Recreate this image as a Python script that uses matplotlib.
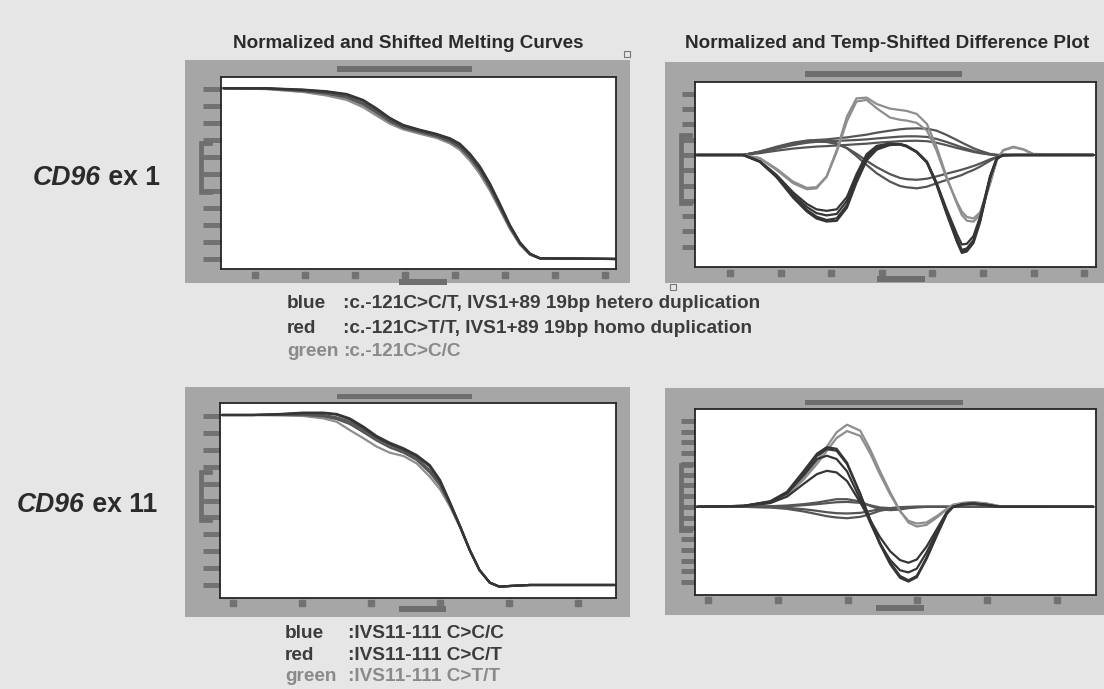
import matplotlib
matplotlib.use("Agg")
import matplotlib.pyplot as plt
from matplotlib import font_manager, transforms
from matplotlib.patches import Rectangle
from matplotlib.lines import Line2D

# ---------------- data ----------------
# x in temperature-tick units, y in % fluorescence / difference units
TL_T = [-0.63, 0.23, 0.96, 1.43, 1.83, 2.16, 2.43, 2.69, 2.96, 3.29, 3.63,
        3.89, 4.09, 4.29, 4.49, 4.69, 4.89, 5.09, 5.29, 5.49, 5.69, 7.19]
tl_blue1 = [100.4, 100.4, 99.6, 98.6, 97.0, 93.5, 88.5, 83.0, 78.8, 76.0, 73.5,
            71.0, 67.8, 62.0, 54.5, 44.5, 32.5, 20.0, 9.8, 3.2, 0.4, 0.0]
tl_blue2 = [100.4, 100.3, 99.4, 98.3, 96.6, 93.0, 88.0, 82.6, 78.5, 75.7, 73.2,
            70.6, 67.3, 61.5, 53.8, 43.8, 31.8, 19.6, 9.6, 3.1, 0.4, 0.0]
tl_red1 = [100.4, 100.2, 99.0, 97.5, 95.5, 91.6, 86.7, 81.4, 77.5, 74.9, 72.4,
           69.6, 66.1, 60.2, 52.4, 42.5, 30.8, 19.0, 9.2, 2.9, 0.4, 0.0]
tl_red2 = [100.4, 100.2, 98.8, 97.2, 95.0, 91.0, 86.0, 80.9, 77.1, 74.6, 72.0,
           69.1, 65.6, 59.6, 51.8, 41.9, 30.3, 18.7, 9.0, 2.8, 0.4, 0.0]
tl_green1 = [100.4, 100.0, 98.4, 96.5, 94.0, 89.8, 84.8, 80.0, 76.5, 74.0, 71.5,
             68.5, 64.8, 58.5, 50.5, 40.8, 29.5, 18.0, 8.6, 2.6, 0.3, 0.0]
tl_green2 = [100.4, 99.9, 98.2, 96.1, 93.5, 89.2, 84.2, 79.6, 76.2, 73.6, 71.1,
             68.0, 64.2, 57.9, 50.0, 40.3, 29.1, 17.8, 8.5, 2.5, 0.3, 0.0]

TR_T = [-0.66, 0.26, 0.59, 0.92, 1.25, 1.52, 1.71, 1.91, 2.11, 2.31, 2.50, 2.70,
        2.90, 3.16, 3.36, 3.49, 3.69, 3.89, 4.08, 4.28, 4.48, 4.58, 4.68, 4.81,
        4.94, 5.14, 5.27, 5.40, 5.60, 5.80, 5.99, 7.18]
tr_green1 = [0, 0, -0.22, -0.98, -1.85, -2.24, -2.18, -1.42, 0.33, 2.51, 3.70, 3.75,
             3.33, 3.03, 2.94, 2.88, 2.68, 2.03, 0.54, -1.42, -3.16, -3.92, -4.29, -4.36,
             -3.92, -1.85, -0.33, 0.33, 0.54, 0.37, 0.07, 0]
tr_green2 = [0, 0, -0.20, -0.90, -1.75, -2.15, -2.10, -1.40, 0.20, 2.20, 3.50, 3.60,
             3.05, 2.45, 2.30, 2.25, 2.10, 1.60, 0.30, -1.55, -3.05, -3.70, -4.05, -4.15,
             -3.75, -1.80, -0.35, 0.30, 0.50, 0.35, 0.05, 0]
tr_red1 = [0, 0, -0.44, -1.42, -2.72, -3.59, -4.03, -4.25, -4.14, -3.27, -1.63, -0.22,
           0.44, 0.70, 0.70, 0.59, 0.22, -0.44, -1.85, -3.70, -5.45, -6.21, -6.10, -5.56,
           -4.25, -1.42, -0.22, 0, 0, 0, 0, 0]
tr_red2 = [0, 0, -0.40, -1.30, -2.45, -3.20, -3.55, -3.65, -3.55, -2.75, -1.25, 0.05,
           0.60, 0.75, 0.72, 0.60, 0.20, -0.45, -1.80, -3.55, -5.15, -5.85, -5.80, -5.30,
           -4.05, -1.35, -0.20, 0, 0, 0, 0, 0]
tr_red3 = [0, 0, -0.45, -1.45, -2.80, -3.70, -4.15, -4.35, -4.30, -3.45, -1.80, -0.35,
           0.35, 0.65, 0.68, 0.55, 0.18, -0.50, -1.95, -3.85, -5.65, -6.40, -6.30, -5.75,
           -4.40, -1.50, -0.25, 0, 0, 0, 0, 0]
tr_red4 = [0, 0, -0.42, -1.36, -2.60, -3.40, -3.80, -3.95, -3.85, -3.00, -1.45, -0.10,
           0.50, 0.72, 0.70, 0.58, 0.20, -0.47, -1.88, -3.75, -5.55, -6.30, -6.20, -5.65,
           -4.30, -1.45, -0.22, 0, 0, 0, 0, 0]
tr_blue1 = [0, 0, 0.22, 0.50, 0.76, 0.92, 0.98, 1.02, 1.09, 1.15, 1.24, 1.33,
            1.46, 1.59, 1.68, 1.72, 1.74, 1.72, 1.59, 1.31, 0.98, 0.81, 0.65, 0.44,
            0.28, 0.07, 0, 0, 0, 0, 0, 0]
tr_blue2 = [0, 0, 0.18, 0.42, 0.65, 0.80, 0.86, 0.90, 0.92, 0.95, 0.98, 1.02,
            1.08, 1.15, 1.20, 1.22, 1.22, 1.18, 1.05, 0.85, 0.62, 0.50, 0.40, 0.26,
            0.15, 0.03, 0, 0, 0, 0, 0, 0]
tr_blue3 = [0, 0, 0.12, 0.28, 0.42, 0.50, 0.55, 0.58, 0.62, 0.66, 0.70, 0.74,
            0.80, 0.86, 0.90, 0.92, 0.93, 0.90, 0.80, 0.64, 0.46, 0.38, 0.30, 0.20,
            0.12, 0.03, 0, 0, 0, 0, 0, 0]
tr_blue4 = [0, 0, 0.22, 0.54, 0.81, 0.94, 0.98, 0.92, 0.76, 0.44, -0.07, -0.65,
            -1.20, -1.74, -2.03, -2.11, -2.18, -2.07, -1.85, -1.63, -1.42, -1.31, -1.15, -0.98,
            -0.76, -0.37, -0.15, -0.04, 0, 0, 0, 0]
tr_blue5 = [0, 0, 0.20, 0.48, 0.72, 0.85, 0.88, 0.85, 0.72, 0.46, 0.08, -0.38,
            -0.80, -1.25, -1.50, -1.58, -1.62, -1.55, -1.40, -1.22, -1.05, -0.96, -0.86, -0.72,
            -0.56, -0.28, -0.12, -0.03, 0, 0, 0, 0]

BL_T = [-0.16, 0.29, 0.68, 1.02, 1.31, 1.50, 1.69, 1.89, 2.08, 2.27, 2.47, 2.66,
        2.85, 3.00, 3.14, 3.29, 3.43, 3.57, 3.72, 3.86, 4.01, 4.30, 5.53]
bl_blue1 = [100.6, 100.6, 101.2, 102.0, 102.0, 101.2, 98.6, 93.7, 88.2, 84.2, 80.9, 76.9,
            71.0, 62.1, 49.3, 34.9, 20.7, 8.9, 1.4, -1.0, -0.6, 0.0, 0.0]
bl_blue2 = [100.6, 100.6, 101.0, 101.7, 101.7, 100.8, 98.0, 93.0, 87.6, 83.6, 80.4, 76.3,
            70.2, 61.4, 48.9, 34.7, 20.7, 8.9, 1.4, -1.0, -0.6, 0.0, 0.0]
bl_red1 = [100.6, 100.6, 100.8, 101.0, 100.6, 99.2, 96.6, 91.7, 86.8, 82.8, 79.3, 75.0,
           68.0, 60.2, 48.3, 34.5, 20.7, 8.9, 1.4, -1.0, -0.6, 0.0, 0.0]
bl_red2 = [100.6, 100.6, 100.6, 100.6, 99.8, 98.2, 95.3, 90.4, 85.5, 81.4, 78.3, 74.0,
           66.6, 58.9, 47.9, 34.3, 20.6, 8.9, 1.4, -1.0, -0.6, 0.0, 0.0]
bl_green1 = [100.6, 100.6, 100.4, 100.0, 98.6, 96.6, 91.7, 86.8, 81.9, 78.3, 76.3, 72.0,
             64.1, 56.6, 46.7, 34.1, 20.5, 8.9, 1.4, -1.0, -0.6, 0.0, 0.0]

BR_T = [-0.16, 0.51, 0.89, 1.13, 1.37, 1.56, 1.70, 1.84, 1.99, 2.18, 2.32, 2.46,
        2.61, 2.75, 2.87, 2.99, 3.13, 3.28, 3.42, 3.51, 3.66, 3.80, 3.99, 4.18, 5.52]
br_green1 = [0, 0.09, 0.40, 1.18, 2.73, 4.29, 5.59, 6.93, 7.64, 7.08, 5.37, 3.35,
             1.34, -0.37, -1.46, -1.83, -1.68, -0.99, -0.22, 0.19, 0.37, 0.43, 0.31, 0.06, 0]
br_green2 = [0, 0.09, 0.38, 1.10, 2.55, 4.00, 5.20, 6.40, 7.05, 6.60, 5.00, 3.05,
             1.15, -0.40, -1.30, -1.55, -1.45, -0.85, -0.18, 0.19, 0.37, 0.43, 0.31, 0.06, 0]
br_red1 = [0, 0.09, 0.50, 1.34, 3.20, 4.75, 5.37, 5.22, 3.98, 1.18, -1.15, -3.32,
           -5.19, -6.43, -6.83, -6.43, -4.72, -2.55, -0.62, 0, 0.25, 0.31, 0.19, 0, 0]
br_red2 = [0, 0.09, 0.52, 1.40, 3.35, 4.95, 5.55, 5.40, 4.10, 1.20, -1.20, -3.45,
           -5.35, -6.60, -6.95, -6.55, -4.85, -2.65, -0.65, 0, 0.25, 0.31, 0.19, 0, 0]
br_red3 = [0, 0.09, 0.45, 1.25, 2.95, 4.45, 4.75, 4.45, 3.30, 0.70, -1.45, -3.40,
           -4.95, -5.90, -6.10, -5.75, -4.25, -2.30, -0.55, 0, 0.25, 0.31, 0.19, 0, 0]
br_red4 = [0, 0.06, 0.35, 0.95, 2.15, 3.05, 3.35, 3.20, 2.40, 0.40, -1.20, -2.80,
           -4.15, -4.95, -5.20, -4.90, -3.70, -2.05, -0.50, 0, 0.22, 0.28, 0.16, 0, 0]
br_blue1 = [0, 0, 0.06, 0.12, 0.25, 0.40, 0.56, 0.71, 0.71, 0.50, 0.09, -0.22,
            -0.31, -0.25, -0.12, -0.06, 0, 0, 0, 0, 0, 0, 0, 0, 0]
br_blue2 = [0, 0, -0.06, -0.19, -0.43, -0.68, -0.87, -0.99, -1.06, -0.93, -0.68, -0.37,
            -0.19, -0.06, -0.03, 0, 0, 0, 0, 0, 0, 0, 0, 0, 0]
br_blue3 = [0, 0, -0.03, -0.09, -0.22, -0.37, -0.50, -0.59, -0.62, -0.56, -0.40, -0.22,
            -0.12, -0.03, 0, 0, 0, 0, 0, 0, 0, 0, 0, 0, 0]
br_blue4 = [0, 0, 0.03, 0.06, 0.15, 0.25, 0.34, 0.43, 0.46, 0.37, 0.15, -0.06,
            -0.12, -0.09, -0.03, 0, 0, 0, 0, 0, 0, 0, 0, 0, 0]

TL_XTICKS = [0, 1, 2, 3, 4, 5, 6, 7]
TR_XTICKS = [0, 1, 2, 3, 4, 5, 6, 7]
BL_XTICKS = [0, 1, 2, 3, 4, 5]
BR_XTICKS = [0, 1, 2, 3, 4, 5]
MELT_YTICKS = [100, 90, 80, 70, 60, 50, 40, 30, 20, 10, 0]
TR_YTICKS = [4, 3, 2, 1, 0, -1, -2, -3, -4, -5, -6]
BR_YTICKS = [8, 7, 6, 5, 4, 3, 2, 1, 0, -1, -2, -3, -4, -5, -6, -7]

TITLES = ["Normalized and Shifted Melting Curves",
          "Normalized and Temp-Shifted Difference Plot"]
ROW_GENE = "CD96"
ROW_EXON = [" ex 1", " ex 11"]
LEG_KEYS = ["blue", "red", "green"]
LEG1 = [":c.-121C>C/T, IVS1+89 19bp hetero duplication",
        ":c.-121C>T/T, IVS1+89 19bp homo duplication",
        ":c.-121C>C/C"]
LEG2 = [":IVS11-111 C>C/C", ":IVS11-111 C>C/T", ":IVS11-111 C>T/T"]

# ---------------- style ----------------
names = {f.name for f in font_manager.fontManager.ttflist}
FONT = "Liberation Sans Narrow" if "Liberation Sans Narrow" in names else "Liberation Sans"
plt.rcParams["font.family"] = [FONT, "DejaVu Sans"]

DARK, MID, LIGHT = "#353535", "#555555", "#8e8e8e"
FRAME, BAR, BG = "#a6a6a6", "#6e6e6e", "#e6e6e6"
W, H = 1104, 689

fig = plt.figure(figsize=(W / 100, H / 100), dpi=100, facecolor=BG)


def fx(x):
    return x / W


def fy(y):
    return 1 - y / H


def rect(x0, y0, x1, y1, color, z=0, fill=True, lw=0):
    fig.add_artist(Rectangle((fx(x0), fy(y1)), (x1 - x0) / W, (y1 - y0) / H,
                             transform=fig.transFigure, facecolor=color if fill else "none",
                             edgecolor=color, lw=lw, zorder=z))


def panel(frame, box, topbar, botbar, bracket, xlim, ylim, xticks, yticks,
          ticklen, sqoff, series):
    rect(*frame, FRAME, z=0)
    rect(topbar[0], topbar[1] - 2.5, topbar[2], topbar[1] + 2.5, BAR, z=1)
    rect(botbar[0], botbar[1] - 3, botbar[2], botbar[1] + 3, BAR, z=1)
    bx, by0, by1 = bracket
    fig.add_artist(Line2D([fx(bx + 9), fx(bx), fx(bx), fx(bx + 9)],
                          [fy(by0), fy(by0), fy(by1), fy(by1)],
                          transform=fig.transFigure, color=BAR, lw=3.4, zorder=1,
                          solid_joinstyle="miter"))
    x0, y0, x1, y1 = box
    ax = fig.add_axes([fx(x0), fy(y1), (x1 - x0) / W, (y1 - y0) / H])
    ax.set_facecolor("white")
    for s in ax.spines.values():
        s.set_color("#262626")
        s.set_linewidth(1.3)
    for xs, ys, c in series:
        ax.plot(xs, ys, color=c, lw=1.6, solid_capstyle="round", solid_joinstyle="round")
    ax.set_xlim(*xlim)
    ax.set_ylim(*ylim)
    ax.set_yticks(yticks)
    ax.set_xticks(xticks)
    ax.tick_params(axis="y", direction="out", length=ticklen * 0.72, width=3.6,
                   color="#727272", labelleft=False)
    ax.tick_params(axis="x", length=0, labelbottom=False)
    tr = transforms.offset_copy(ax.get_xaxis_transform(), fig=fig, y=-sqoff, units="dots")
    ax.plot(xticks, [0] * len(xticks), "s", ms=4.3, color="#727272", transform=tr,
            clip_on=False)
    return ax


panel((185, 60, 630, 283), (221, 77, 616, 269), (337, 69, 472), (399, 282, 447),
      (200.5, 143, 192), (-0.68, 7.21), (-5.9, 107.0), TL_XTICKS, MELT_YTICKS, 18, 6,
      [(TL_T, tl_green1, LIGHT), (TL_T, tl_green2, LIGHT), (TL_T, tl_red1, MID),
       (TL_T, tl_red2, MID), (TL_T, tl_blue1, DARK), (TL_T, tl_blue2, DARK)])

panel((665, 62, 1104, 283), (695, 82, 1096, 267), (805, 74, 962), (877, 279, 925),
      (680.5, 135, 203), (-0.69, 7.23), (-7.32, 4.77), TR_XTICKS, TR_YTICKS, 13, 6,
      [(TR_T, tr_blue3, MID), (TR_T, tr_blue2, MID), (TR_T, tr_blue1, MID),
       (TR_T, tr_blue5, MID), (TR_T, tr_blue4, MID),
       (TR_T, tr_green2, LIGHT), (TR_T, tr_green1, LIGHT),
       (TR_T, tr_red2, DARK), (TR_T, tr_red4, DARK), (TR_T, tr_red1, DARK),
       (TR_T, tr_red3, DARK)])

panel((185, 387, 630, 617), (220, 403, 616, 598), (337, 396, 472), (399, 609, 446),
      (200.5, 472, 520), (-0.19, 5.55), (-7.7, 107.7), BL_XTICKS, MELT_YTICKS, 17, 5,
      [(BL_T, bl_green1, LIGHT), (BL_T, bl_red2, MID), (BL_T, bl_red1, MID),
       (BL_T, bl_blue2, DARK), (BL_T, bl_blue1, DARK)])

panel((665, 388, 1104, 615), (695, 409, 1096, 595), (805, 402, 963), (876, 608, 924),
      (680.5, 465, 530), (-0.19, 5.56), (-8.2, 9.1), BR_XTICKS, BR_YTICKS, 14, 5,
      [(BR_T, br_blue1, MID), (BR_T, br_blue2, MID), (BR_T, br_blue3, MID),
       (BR_T, br_blue4, MID), (BR_T, br_green2, LIGHT), (BR_T, br_green1, LIGHT),
       (BR_T, br_red4, DARK), (BR_T, br_red3, DARK), (BR_T, br_red1, DARK),
       (BR_T, br_red2, DARK)])

# small "+" boxes of the scan
rect(624, 51, 630, 57, "#777777", z=3, fill=False, lw=0.8)
rect(670, 284, 676, 290, "#777777", z=3, fill=False, lw=0.8)

# ---------------- texts ----------------
renderer = fig.canvas.get_renderer()


def width(t):
    return t.get_window_extent(renderer).width


def fit(ts, target):
    w = sum(width(t) for t in ts)
    for t in ts:
        t.set_fontsize(t.get_fontsize() * target / w)


TXT = "#2b2b2b"
t = fig.text(fx(408), fy(48), TITLES[0], ha="center", va="baseline", weight="bold",
             color=TXT, size=14)
fit([t], 350)
t = fig.text(fx(887), fy(48), TITLES[1], ha="center", va="baseline", weight="bold",
             color=TXT, size=14)
fit([t], 405)

for (xl, xr, base), exon in zip([(33, 160, 185), (17, 157, 512)], ROW_EXON):
    a = fig.text(fx(xl), fy(base), ROW_GENE, style="italic", weight="bold", color=TXT,
                 size=22, va="baseline")
    b = fig.text(fx(xl), fy(base), exon, weight="bold", color=TXT, size=22,
                 va="baseline")
    fit([a, b], xr - xl)
    b.set_x(fx(xl + width(a)))

# legend size: fit the longest line of the first block, reuse for both blocks
probe = fig.text(0, 0, LEG1[0], weight="bold", size=12)
fit([probe], 415)
LEG_SIZE = probe.get_fontsize()
probe.remove()

legend_colors = ["#3c3c3c", "#3c3c3c", "#8a8a8a"]
for lines, keyx, colx, bases in [
        (LEG1, 287, 343, (308, 333, 356)),
        (LEG2, 285, 348, (638, 660, 681))]:
    for k, s, y, c in zip(LEG_KEYS, lines, bases, legend_colors):
        fig.text(fx(keyx), fy(y), k, weight="bold", color=c, size=LEG_SIZE,
                 va="baseline")
        fig.text(fx(colx), fy(y), s, weight="bold", color=c, size=LEG_SIZE,
                 va="baseline")

fig.savefig("out.png", dpi=100, facecolor=BG)
